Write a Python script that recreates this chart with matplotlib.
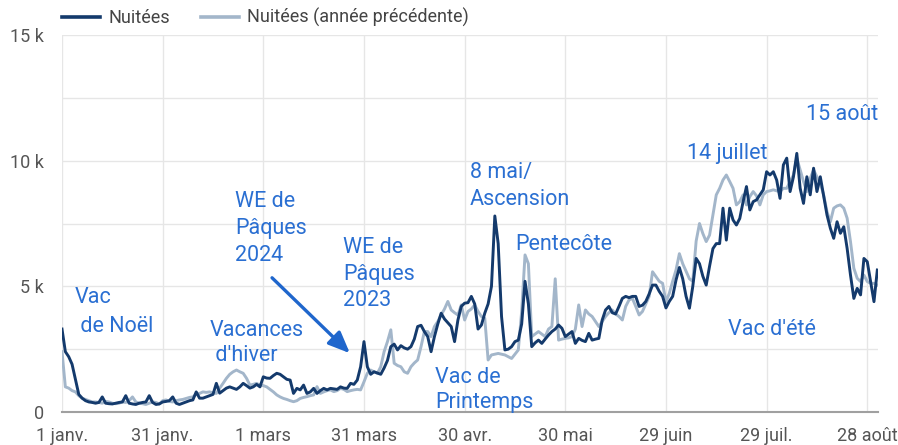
import numpy as np
import matplotlib
matplotlib.use('Agg')
import matplotlib.pyplot as plt

plt.rcParams['font.family'] = ['Roboto', 'DejaVu Sans']

# nuitées par jour (milliers), 1 janv. -> 31 août
nuitees = [
    3.3, 2.4, 2.2, 1.9, 1.3, 0.7, 0.55, 0.45, 0.4, 0.38,
    0.35, 0.38, 0.6, 0.35, 0.33, 0.32, 0.35, 0.38, 0.4, 0.65,
    0.35, 0.32, 0.3, 0.35, 0.38, 0.4, 0.65, 0.38, 0.3, 0.32,
    0.4, 0.42, 0.45, 0.6, 0.35, 0.3, 0.35, 0.4, 0.45, 0.48,
    0.8, 0.55, 0.55, 0.6, 0.65, 0.7, 1.14, 0.75, 0.85, 0.95,
    1.0, 0.95, 0.9, 1.0, 1.14, 1.05, 0.95, 1.0, 1.1, 1.0,
    1.4, 1.35, 1.34, 1.45, 1.54, 1.5, 1.4, 1.3, 1.27, 0.74,
    0.94, 0.88, 1.07, 0.74, 0.8, 0.94, 0.74, 0.85, 0.94, 0.88,
    0.94, 0.92, 0.9, 1.0, 0.95, 0.94, 1.14, 1.1, 1.27, 1.8,
    2.8, 1.8, 1.5, 1.6, 1.55, 1.5, 1.75, 2.05, 2.6, 2.7,
    2.47, 2.64, 2.55, 2.5, 2.6, 2.9, 3.4, 3.45, 3.2, 3.0,
    2.4, 3.0, 3.5, 3.93, 3.7, 3.55, 3.4, 2.8, 3.66, 4.2,
    4.33, 4.35, 4.6, 4.3, 3.3, 3.46, 3.93, 4.3, 5.0, 7.8,
    6.7, 3.8, 2.47, 2.5, 2.6, 2.8, 2.86, 3.5, 5.2, 4.3,
    2.6, 2.75, 2.86, 2.73, 2.9, 3.06, 3.2, 3.3, 3.46, 3.33,
    3.0, 3.1, 3.2, 2.73, 2.93, 2.85, 2.8, 3.13, 2.86, 2.9,
    2.93, 3.66, 4.06, 4.2, 3.95, 3.9, 4.2, 4.52, 4.6, 4.55,
    4.6, 4.6, 4.2, 4.25, 4.4, 4.7, 5.05, 5.05, 4.8, 4.6,
    4.14, 4.4, 4.6, 5.25, 5.75, 5.3, 4.6, 4.13, 5.0, 6.11,
    5.9, 5.4, 5.05, 5.8, 6.5, 6.7, 6.7, 8.11, 6.84, 8.11,
    7.64, 7.44, 7.7, 8.37, 8.97, 8.04, 8.37, 8.44, 8.64, 8.84,
    9.56, 9.43, 9.56, 9.23, 8.5, 9.83, 10.1, 8.77, 9.36, 10.29,
    8.9, 8.3, 9.36, 8.64, 9.7, 8.77, 9.36, 8.6, 7.84, 7.31,
    6.91, 7.57, 7.11, 7.37, 6.51, 5.45, 4.52, 4.92, 4.66, 6.11,
    5.98, 5.19, 4.39, 5.65,
]

nuitees_prec = [
    2.4, 1.0, 0.95, 0.85, 0.8, 0.65, 0.55, 0.5, 0.45, 0.4,
    0.4, 0.38, 0.35, 0.42, 0.4, 0.35, 0.33, 0.35, 0.4, 0.38,
    0.45, 0.6, 0.4, 0.35, 0.33, 0.3, 0.35, 0.4, 0.38, 0.32,
    0.45, 0.48, 0.42, 0.4, 0.45, 0.48, 0.5, 0.54, 0.58, 0.6,
    0.7, 0.74, 0.8, 0.78, 0.8, 0.76, 0.74, 0.95, 1.14, 1.34,
    1.5, 1.6, 1.67, 1.6, 1.54, 1.34, 1.07, 1.1, 1.14, 1.07,
    1.05, 1.0, 0.9, 0.8, 0.68, 0.6, 0.54, 0.5, 0.45, 0.41,
    0.45, 0.54, 0.58, 0.61, 0.65, 0.68, 1.01, 0.74, 0.8, 0.85,
    0.88, 0.81, 0.85, 0.94, 0.9, 0.81, 0.85, 0.88, 0.9, 0.88,
    1.2, 1.54, 1.67, 1.6, 1.54, 1.8, 2.4, 2.8, 3.27, 1.94,
    1.85, 1.8, 1.6, 1.54, 1.8, 1.95, 2.07, 2.6, 3.2, 3.2,
    3.0, 3.4, 3.6, 3.86, 4.1, 4.4, 4.06, 3.95, 3.86, 4.26,
    3.66, 4.0, 4.1, 4.26, 4.0, 3.8, 3.73, 2.07, 2.27, 2.3,
    2.33, 2.3, 2.27, 2.2, 2.13, 2.3, 2.47, 4.0, 6.25, 5.9,
    3.0, 3.1, 3.2, 3.1, 3.0, 3.3, 3.4, 5.3, 2.86, 2.9,
    2.93, 2.95, 3.0, 3.3, 4.26, 3.4, 4.06, 3.9, 3.8, 3.6,
    3.4, 3.6, 3.8, 3.95, 4.06, 3.9, 3.8, 3.66, 4.2, 4.46,
    4.52, 4.2, 3.86, 4.0, 4.3, 4.6, 5.58, 5.39, 5.2, 5.12,
    4.39, 4.72, 5.2, 5.65, 6.3, 5.9, 5.6, 5.3, 5.2, 6.8,
    7.5, 7.1, 6.78, 7.04, 7.84, 8.64, 8.9, 9.23, 9.43, 9.17,
    8.9, 8.24, 8.37, 8.64, 8.24, 8.57, 8.77, 8.6, 8.24, 8.64,
    8.77, 8.8, 8.84, 8.8, 8.77, 8.9, 8.9, 9.17, 9.43, 10.1,
    9.63, 9.17, 8.77, 9.3, 9.63, 9.36, 9.1, 8.64, 7.97, 7.57,
    8.11, 8.2, 8.24, 8.11, 7.71, 6.78, 5.72, 5.32, 5.19, 5.45,
    5.19, 5.12, 5.12, 5.05,
]

jours = np.arange(len(nuitees))
x_ticks = [0, 30, 60, 90, 120, 150, 180, 210, 240]
x_labels = ['1 janv.', '31 janv.', '1 mars', '31 mars', '30 avr.', '30 mai',
            '29 juin', '29 juil.', '28 août']
y_ticks = [0, 5, 10, 15]
y_labels = ['0', '5 k', '10 k', '15 k']

# annotations : lignes, x (jour), ligne de base du 1er texte (k), pas (k)
notes = [
    (['Vac', ' de Noël'], 3.9, 4.34, 1.15),
    (['Vacances', " d'hiver"], 44.1, 3.04, 1.03),
    (['WE de', 'Pâques', '2024'], 51.6, 8.17, 1.08),
    (['WE de', 'Pâques', '2023'], 83.7, 6.34, 1.07),
    (['8 mai/', 'Ascension'], 121.6, 9.30, 1.06),
    (['Pentecôte'], 135.2, 6.45, 1.0),
    (['Vac de', 'Printemps'], 111.2, 1.14, 1.0),
    (['14 juillet'], 186.2, 10.07, 1.0),
    (['15 août'], 221.8, 11.62, 1.0),
    (["Vac d'été"], 198.5, 3.06, 1.0),
]

c_dark = '#143a6c'
c_light = '#a3b6ca'
c_note = '#2a6fd2'

fig = plt.figure(figsize=(8.98, 4.45), dpi=100)
ax = fig.add_axes([62 / 898, 33 / 445, 816 / 898, 377 / 445])

l2, = ax.plot(jours, nuitees_prec, color=c_light, lw=2.1, label='Nuitées (année précédente)', zorder=3)
l1, = ax.plot(jours, nuitees, color=c_dark, lw=2.1, label='Nuitées', zorder=4)

ax.set_xlim(0, 243.2)
ax.set_ylim(0, 15)
ax.set_xticks(x_ticks)
ax.set_xticklabels(x_labels)
ax.set_yticks(y_ticks)
ax.set_yticklabels(y_labels)
ax.set_yticks([2.5, 7.5, 12.5], minor=True)
ax.grid(which='both', color='#e6e6e6', lw=1, zorder=0)
ax.tick_params(which='both', length=0)
ax.tick_params(axis='x', pad=11, labelsize=13, labelcolor='#555555')
ax.tick_params(axis='y', pad=13, labelsize=13, labelcolor='#555555')
for s in ['top', 'right', 'left']:
    ax.spines[s].set_visible(False)
ax.spines['bottom'].set_color('#a0a0a0')
ax.spines['bottom'].set_linewidth(1.5)

for lignes, x, y0, pas in notes:
    for i, t in enumerate(lignes):
        ax.text(x, y0 - i * pas, t, color=c_note, fontsize=15.5, ha='left', va='baseline', zorder=5)

ax.annotate('', xy=(85.8, 2.34), xytext=(62.6, 5.34),
            arrowprops=dict(arrowstyle='-|>,head_length=1.3,head_width=0.55',
                            color='#1f66cc', lw=2.4, shrinkA=0, shrinkB=0), zorder=5)

fig.legend(handles=[l1, l2], loc='upper left', bbox_to_anchor=(62 / 898, 1 - 8 / 445),
           ncol=2, frameon=False, fontsize=13, handlelength=2.1, handletextpad=0.45,
           columnspacing=1.75, borderaxespad=0, borderpad=0, labelcolor='#444444')
for h in fig.legends[0].get_lines():
    h.set_linewidth(2.6)

fig.savefig('out.png', dpi=100)
